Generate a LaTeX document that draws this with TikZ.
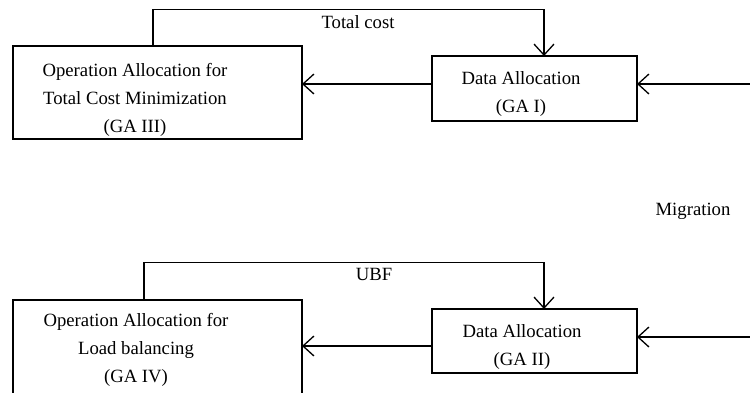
\documentclass[tikz,border=0pt]{standalone}
\usepackage{fontspec}
\setmainfont{Liberation Serif}
\usetikzlibrary{arrows.meta}
\begin{document}
\begin{tikzpicture}[x=0.5pt,y=-0.5pt,line width=0.65pt,
  box/.style={draw,inner sep=0pt,outer sep=0pt},
  txt/.style={align=center,inner sep=0pt,font=\fontsize{9.35}{14}\selectfont},
  arr/.style={-{Straight Barb[length=5.5pt,width=10pt,line width=0.65pt]}}]
\useasboundingbox (0,0) rectangle (750,392);
\clip (0,0) rectangle (750,392);
% top row
\node[box,minimum width=144.5pt,minimum height=46.5pt] (ga3) at (157.5,92.5) {};
\node[txt] (ga3t) at (135,99.5) {Operation Allocation for\\Total Cost Minimization\\(GA III)};
\node[box,minimum width=102.5pt,minimum height=32.5pt] (ga1) at (534.5,88.5) {};
\node[txt] (ga1t) at (521,93.5) {Data Allocation\\(GA I)};
\coordinate (r1) at (752,84);
\coordinate (t1) at (153,9.5);
\coordinate (t1b) at (544,9.5);
\draw[arr] (r1) -- (r1 -| ga1.east);
\draw[arr] (ga1.west |- r1) -- (ga3.east |- r1);
\draw[arr] (t1 |- ga3.north) -- (t1) -- (t1b) -- (t1b |- ga1.north);
\node[txt] (tc) at (358,22) {Total cost};
% migration
\node[txt] (mig) at (693,211) {Migration};
% bottom row
\node[box,minimum width=144.5pt,minimum height=60pt] (ga4) at (157.5,360) {};
\node[txt] (ga4t) at (136,350) {Operation Allocation for\\Load balancing\\(GA IV)};
\node[box,minimum width=102.5pt,minimum height=32pt] (ga2) at (534.5,341) {};
\node[txt] (ga2t) at (522,346.5) {Data Allocation\\(GA II)};
\coordinate (r2) at (752,337);
\coordinate (m2) at (400,346);
\coordinate (t2) at (144,262.5);
\coordinate (t2b) at (544,262.5);
\draw[arr] (r2) -- (r2 -| ga2.east);
\draw[arr] (ga2.west |- m2) -- (ga4.east |- m2);
\draw[arr] (t2 |- ga4.north) -- (t2) -- (t2b) -- (t2b |- ga2.north);
\node[txt] (ubf) at (374,274) {UBF};
\end{tikzpicture}
\end{document}
